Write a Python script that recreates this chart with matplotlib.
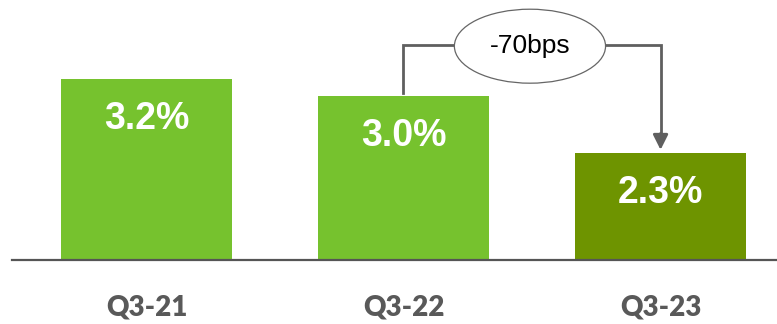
import matplotlib.pyplot as plt
from matplotlib.patches import Ellipse

# data
quarters = ['Q3-21', 'Q3-22', 'Q3-23']
values = [3.2, 3.0, 2.3]
labels = ['3.2%', '3.0%', '2.3%']
change_label = '-70bps'
bar_colors = ['#76C22E', '#76C22E', '#6E9400']

plt.rcParams['font.family'] = ['Liberation Sans', 'DejaVu Sans']

fig = plt.figure(figsize=(7.77, 3.24), dpi=100)
ax = fig.add_axes([12/777, 64/324, 765/777, 260/324])

x = range(len(quarters))
ax.bar(x, values, width=0.665, color=bar_colors, bottom=0)
ax.set_xlim(-0.523, 2.453)
ax.set_ylim(1.0, 4.163)

# value labels inside bars
for i, (v, lab) in enumerate(zip(values, labels)):
    ax.annotate(lab, (i, v), xytext=(0, -40), textcoords='offset pixels',
                ha='center', va='center', color='white', fontsize=27,
                fontweight='bold')

# bracket arrow from Q3-22 to Q3-23
line_col = '#5F5F5F'
y_top = values[0] + 0.416
y_head = values[2] + 0.22
ax.plot([1, 1, 2, 2], [values[1] + 0.03, y_top, y_top, y_head],
        color=line_col, lw=2, solid_joinstyle='miter', zorder=2)
ax.annotate('', xy=(2, values[2] + 0.04), xytext=(2, y_head + 0.02),
            arrowprops=dict(arrowstyle='-|>,head_width=0.45,head_length=0.9',
                            color=line_col, lw=2, shrinkA=0, shrinkB=0))
ax.add_patch(Ellipse((1.492, y_top - 0.015), 0.588, 0.90, facecolor='white',
                     edgecolor='#666666', lw=0.9, zorder=3))
ax.text(1.492, y_top - 0.015, change_label, ha='center', va='center',
        fontsize=19, color='black', zorder=4)

for s in ['top', 'left', 'right']:
    ax.spines[s].set_visible(False)
ax.spines['bottom'].set_color('#555555')
ax.spines['bottom'].set_linewidth(1.6)
ax.set_yticks([])
ax.set_xticks(list(x))
ax.set_xticklabels(quarters, fontsize=20, fontweight='heavy', color='#595959',
                   family=['Lato', 'DejaVu Sans'])
ax.tick_params(axis='x', length=0, pad=25)

fig.savefig('out.png', dpi=100)
